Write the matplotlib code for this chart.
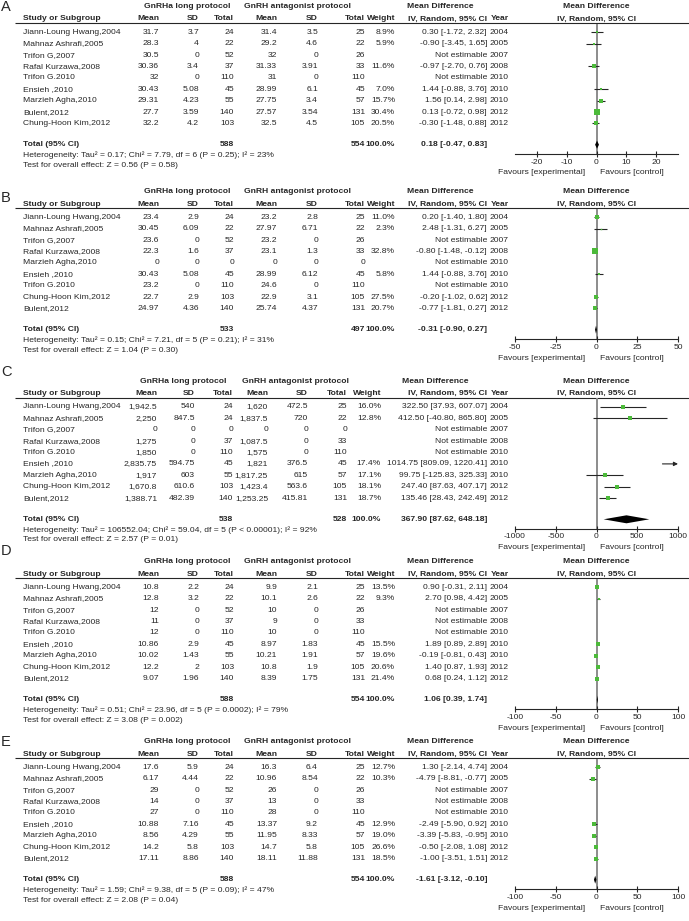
import numpy as np
import matplotlib.pyplot as plt

plt.rcParams['font.family'] = ['Liberation Sans', 'DejaVu Sans']
plt.rcParams['axes.unicode_minus'] = False

# ---- data ----
YEARS = [2004, 2005, 2007, 2008, 2010, 2010, 2010, 2012, 2012]

A_STUDY = ['Jiann-Loung Hwang,2004', 'Mahnaz Ashrafi,2005', 'Trifon G,2007', 'Rafal Kurzawa,2008',
           'Trifon G.2010', 'Ensieh ,2010', 'Marzieh Agha,2010', 'Bulent,2012', 'Chung-Hoon Kim,2012']
A_LONG_MEAN = [31.7, 28.3, 30.5, 30.36, 32, 30.43, 29.31, 27.7, 32.2]
A_LONG_SD = [3.7, 4, 0, 3.4, 0, 5.08, 4.23, 3.59, 4.2]
A_LONG_N = [24, 22, 52, 37, 110, 45, 55, 140, 103]
A_ANT_MEAN = [31.4, 29.2, 32, 31.33, 31, 28.99, 27.75, 27.57, 32.5]
A_ANT_SD = [3.5, 4.6, 0, 3.91, 0, 6.1, 3.4, 3.54, 4.5]
A_ANT_N = [25, 22, 26, 33, 110, 45, 57, 131, 105]
A_WEIGHT = [8.9, 5.9, None, 11.6, None, 7.0, 15.7, 30.4, 20.5]
A_MD = [0.30, -0.90, None, -0.97, None, 1.44, 1.56, 0.13, -0.30]
A_LO = [-1.72, -3.45, None, -2.70, None, -0.88, 0.14, -0.72, -1.48]
A_HI = [2.32, 1.65, None, 0.76, None, 3.76, 2.98, 0.98, 0.88]
A_TOTAL_N = [588, 554]
A_POOLED = [0.18, -0.47, 0.83]
A_HET = 'Heterogeneity: Tau² = 0.17; Chi² = 7.79, df = 6 (P = 0.25); I² = 23%'
A_TEST = 'Test for overall effect: Z = 0.56 (P = 0.58)'
A_TICKS = [-20, -10, 0, 10, 20]
A_XLIM = [-27.5, 27.5]

B_STUDY = ['Jiann-Loung Hwang,2004', 'Mahnaz Ashrafi,2005', 'Trifon G,2007', 'Rafal Kurzawa,2008',
           'Marzieh Agha,2010', 'Ensieh ,2010', 'Trifon G.2010', 'Chung-Hoon Kim,2012', 'Bulent,2012']
B_LONG_MEAN = [23.4, 30.45, 23.6, 22.3, 0, 30.43, 23.2, 22.7, 24.97]
B_LONG_SD = [2.9, 6.09, 0, 1.6, 0, 5.08, 0, 2.9, 4.36]
B_LONG_N = [24, 22, 52, 37, 0, 45, 110, 103, 140]
B_ANT_MEAN = [23.2, 27.97, 23.2, 23.1, 0, 28.99, 24.6, 22.9, 25.74]
B_ANT_SD = [2.8, 6.71, 0, 1.3, 0, 6.12, 0, 3.1, 4.37]
B_ANT_N = [25, 22, 26, 33, 0, 45, 110, 105, 131]
B_WEIGHT = [11.0, 2.3, None, 32.8, None, 5.8, None, 27.5, 20.7]
B_MD = [0.20, 2.48, None, -0.80, None, 1.44, None, -0.20, -0.77]
B_LO = [-1.40, -1.31, None, -1.48, None, -0.88, None, -1.02, -1.81]
B_HI = [1.80, 6.27, None, -0.12, None, 3.76, None, 0.62, 0.27]
B_TOTAL_N = [533, 497]
B_POOLED = [-0.31, -0.90, 0.27]
B_HET = 'Heterogeneity: Tau² = 0.15; Chi² = 7.21, df = 5 (P = 0.21); I² = 31%'
B_TEST = 'Test for overall effect: Z = 1.04 (P = 0.30)'
B_TICKS = [-50, -25, 0, 25, 50]
B_XLIM = [-50, 50]

CDE_STUDY = ['Jiann-Loung Hwang,2004', 'Mahnaz Ashrafi,2005', 'Trifon G,2007', 'Rafal Kurzawa,2008',
             'Trifon G.2010', 'Ensieh ,2010', 'Marzieh Agha,2010', 'Chung-Hoon Kim,2012', 'Bulent,2012']

C_LONG_MEAN = [1942.5, 2250, 0, 1275, 1850, 2835.75, 1917, 1670.8, 1388.71]
C_LONG_SD = [540, 847.5, 0, 0, 0, 594.75, 603, 610.6, 482.39]
C_LONG_N = [24, 24, 0, 37, 110, 45, 55, 103, 140]
C_ANT_MEAN = [1620, 1837.5, 0, 1087.5, 1575, 1821, 1817.25, 1423.4, 1253.25]
C_ANT_SD = [472.5, 720, 0, 0, 0, 376.5, 615, 563.6, 415.81]
C_ANT_N = [25, 22, 0, 33, 110, 45, 57, 105, 131]
C_WEIGHT = [16.0, 12.8, None, None, None, 17.4, 17.1, 18.1, 18.7]
C_MD = [322.50, 412.50, None, None, None, 1014.75, 99.75, 247.40, 135.46]
C_LO = [37.93, -40.80, None, None, None, 809.09, -125.83, 87.63, 28.43]
C_HI = [607.07, 865.80, None, None, None, 1220.41, 325.33, 407.17, 242.49]
C_TOTAL_N = [538, 528]
C_POOLED = [367.90, 87.62, 648.18]
C_HET = 'Heterogeneity: Tau² = 106552.04; Chi² = 59.04, df = 5 (P < 0.00001); I² = 92%'
C_TEST = 'Test for overall effect: Z = 2.57 (P = 0.01)'
C_TICKS = [-1000, -500, 0, 500, 1000]
C_XLIM = [-1000, 1000]

D_LONG_MEAN = [10.8, 12.8, 12, 11, 12, 10.86, 10.02, 12.2, 9.07]
D_LONG_SD = [2.2, 3.2, 0, 0, 0, 2.9, 1.43, 2, 1.96]
D_LONG_N = [24, 22, 52, 37, 110, 45, 55, 103, 140]
D_ANT_MEAN = [9.9, 10.1, 10, 9, 10, 8.97, 10.21, 10.8, 8.39]
D_ANT_SD = [2.1, 2.6, 0, 0, 0, 1.83, 1.91, 1.9, 1.75]
D_ANT_N = [25, 22, 26, 33, 110, 45, 57, 105, 131]
D_WEIGHT = [13.5, 9.3, None, None, None, 15.5, 19.6, 20.6, 21.4]
D_MD = [0.90, 2.70, None, None, None, 1.89, -0.19, 1.40, 0.68]
D_LO = [-0.31, 0.98, None, None, None, 0.89, -0.81, 0.87, 0.24]
D_HI = [2.11, 4.42, None, None, None, 2.89, 0.43, 1.93, 1.12]
D_TOTAL_N = [588, 554]
D_POOLED = [1.06, 0.39, 1.74]
D_HET = 'Heterogeneity: Tau² = 0.51; Chi² = 23.96, df = 5 (P = 0.0002); I² = 79%'
D_TEST = 'Test for overall effect: Z = 3.08 (P = 0.002)'
D_TICKS = [-100, -50, 0, 50, 100]
D_XLIM = [-100, 100]

E_LONG_MEAN = [17.6, 6.17, 29, 14, 27, 10.88, 8.56, 14.2, 17.11]
E_LONG_SD = [5.9, 4.44, 0, 0, 0, 7.16, 4.29, 5.8, 8.86]
E_LONG_N = [24, 22, 52, 37, 110, 45, 55, 103, 140]
E_ANT_MEAN = [16.3, 10.96, 26, 13, 28, 13.37, 11.95, 14.7, 18.11]
E_ANT_SD = [6.4, 8.54, 0, 0, 0, 9.2, 8.33, 5.8, 11.88]
E_ANT_N = [25, 22, 26, 33, 110, 45, 57, 105, 131]
E_WEIGHT = [12.7, 10.3, None, None, None, 12.9, 19.0, 26.6, 18.5]
E_MD = [1.30, -4.79, None, None, None, -2.49, -3.39, -0.50, -1.00]
E_LO = [-2.14, -8.81, None, None, None, -5.90, -5.83, -2.08, -3.51]
E_HI = [4.74, -0.77, None, None, None, 0.92, -0.95, 1.08, 1.51]
E_TOTAL_N = [588, 554]
E_POOLED = [-1.61, -3.12, -0.10]
E_HET = 'Heterogeneity: Tau² = 1.59; Chi² = 9.38, df = 5 (P = 0.09); I² = 47%'
E_TEST = 'Test for overall effect: Z = 2.08 (P = 0.04)'
E_TICKS = [-100, -50, 0, 50, 100]
E_XLIM = [-100, 100]

# ---- layout (pixels) ----
W, H = 689, 921
FS = 6.1
INK = '#262626'
GREEN = '#4cba3a'
FX0, FX1 = 515, 678
FMID = (FX0 + FX1) / 2
ROW0, ROW_STEP, TOTAL_DY = 25.6, 11.4, 138.0

COLS = dict(study=23, lm=159, lsd=199, ln=234, am=277, asd=318, an=365, w=395,
            ci=487, yr=509, g1=187, g2=298, mdh=407)
COLS_C = dict(COLS, lm=157, lsd=195, ln=233, am=268, asd=308, an=347, w=381,
              g1=183, g2=296, mdh=402)


def fmt(v):
    return f'{v:,g}'


def draw_panel(fig, bg, y0, letter, letter_dy, cols, d):
    txt = dict(fontsize=FS, color=INK, va='center')
    bold = dict(txt, fontweight='bold')
    bg.text(1, y0 + letter_dy, letter, fontsize=10.5, color=INK, va='center')

    h1, h2 = y0, y0 + 12.3
    bg.text(cols['g1'], h1, 'GnRHa long protocol', ha='center', **bold)
    bg.text(cols['g2'], h1, 'GnRH antagonist protocol', ha='center', **bold)
    bg.text(cols['mdh'], h1, 'Mean Difference', ha='left', **bold)
    bg.text(FMID, h1, 'Mean Difference', ha='center', **bold)
    bg.text(cols['study'], h2, 'Study or Subgroup', ha='left', **bold)
    heads = [('lm', 'Mean'), ('lsd', 'SD'), ('ln', 'Total'), ('am', 'Mean'), ('asd', 'SD'),
             ('an', 'Total'), ('w', 'Weight'), ('ci', 'IV, Random, 95% CI'), ('yr', 'Year')]
    for key, lab in heads:
        bg.text(cols[key], h2, lab, ha='right', **bold)
    bg.text(FMID, h2, 'IV, Random, 95% CI', ha='center', **bold)
    bg.plot([15, W], [y0 + 16.6] * 2, color=INK, lw=0.8, solid_capstyle='butt')

    for i, name in enumerate(d['study']):
        y = y0 + ROW0 + i * ROW_STEP
        bg.text(cols['study'], y, name, ha='left', **txt)
        for key in ('lm', 'lsd', 'am', 'asd'):
            bg.text(cols[key], y, fmt(d[key][i]), ha='right', **txt)
        bg.text(cols['ln'], y, str(d['ln'][i]), ha='right', **txt)
        bg.text(cols['an'], y, str(d['an'][i]), ha='right', **txt)
        if d['md'][i] is None:
            bg.text(cols['ci'], y, 'Not estimable', ha='right', **txt)
        else:
            bg.text(cols['w'], y, f"{d['w'][i]:.1f}%", ha='right', **txt)
            bg.text(cols['ci'], y, f"{d['md'][i]:.2f} [{d['lo'][i]:.2f}, {d['hi'][i]:.2f}]",
                    ha='right', **txt)
        bg.text(cols['yr'], y, str(YEARS[i]), ha='right', **txt)

    yt = y0 + TOTAL_DY
    m, lo, hi = d['pooled']
    bg.text(cols['study'], yt, 'Total (95% CI)', ha='left', **bold)
    bg.text(cols['ln'], yt, str(d['total_n'][0]), ha='right', **bold)
    bg.text(cols['an'], yt, str(d['total_n'][1]), ha='right', **bold)
    bg.text(cols['w'], yt, '100.0%', ha='right', **bold)
    bg.text(cols['ci'], yt, f'{m:.2f} [{lo:.2f}, {hi:.2f}]', ha='right', **bold)
    bg.text(cols['study'], y0 + 148.6, d['het'], ha='left', **txt)
    bg.text(cols['study'], y0 + 158.6, d['test'], ha='left', **txt)
    bg.text(FMID - 11, y0 + 166.3, 'Favours [experimental]', ha='right', **txt)
    bg.text(FMID + 3.5, y0 + 166.3, 'Favours [control]', ha='left', **txt)

    # forest plot
    top, bot = 17.0, 147.3
    ax = fig.add_axes([FX0 / W, 1 - (y0 + bot) / H, (FX1 - FX0) / W, (bot - top) / H])
    ax.patch.set_alpha(0)
    ax.set_xlim(d['xlim'])
    ax.set_ylim(bot, top)
    for s in ('left', 'right', 'top'):
        ax.spines[s].set_visible(False)
    ax.spines['bottom'].set_color(INK)
    ax.spines['bottom'].set_linewidth(0.8)
    ax.set_yticks([])
    ax.set_xticks(d['ticks'])
    ax.set_xticklabels([str(t) for t in d['ticks']])
    ax.tick_params(axis='x', direction='inout', length=5, width=0.8, colors=INK,
                   labelsize=FS, pad=1)
    ax.axvline(0, color='#8c8c8c', lw=1.4, zorder=1)

    xmin, xmax = d['xlim']
    for i in range(len(d['study'])):
        if d['md'][i] is None:
            continue
        y = ROW0 + i * ROW_STEP
        l, h, e = d['lo'][i], d['hi'][i], d['md'][i]
        if h > xmax:
            ax.annotate('', xy=(xmax, y), xytext=(max(l, xmin), y), annotation_clip=False,
                        arrowprops=dict(arrowstyle='-|>', color=INK, lw=0.8,
                                        mutation_scale=6, shrinkA=0, shrinkB=0))
        else:
            ax.hlines(y, max(l, xmin), h, color=INK, lw=0.8, zorder=2)
        if xmin <= e <= xmax:
            ax.plot(e, y, marker='s', ms=0.68 * np.sqrt(d['w'][i]), color=GREEN,
                    mec=GREEN, mew=0, zorder=3)
    ax.fill([lo, m, hi, m], [TOTAL_DY, TOTAL_DY - 4, TOTAL_DY, TOTAL_DY + 4],
            color='black', lw=0, zorder=3)


fig = plt.figure(figsize=(W / 100, H / 100), dpi=100)
bg = fig.add_axes([0, 0, 1, 1])
bg.set_xlim(0, W)
bg.set_ylim(H, 0)
bg.axis('off')

panels = [
    ('A', 6.7, 0.0, COLS, dict(study=A_STUDY, lm=A_LONG_MEAN, lsd=A_LONG_SD, ln=A_LONG_N,
                               am=A_ANT_MEAN, asd=A_ANT_SD, an=A_ANT_N, w=A_WEIGHT, md=A_MD,
                               lo=A_LO, hi=A_HI, total_n=A_TOTAL_N, pooled=A_POOLED,
                               het=A_HET, test=A_TEST, ticks=A_TICKS, xlim=A_XLIM)),
    ('B', 191.7, 6.3, COLS, dict(study=B_STUDY, lm=B_LONG_MEAN, lsd=B_LONG_SD, ln=B_LONG_N,
                                 am=B_ANT_MEAN, asd=B_ANT_SD, an=B_ANT_N, w=B_WEIGHT, md=B_MD,
                                 lo=B_LO, hi=B_HI, total_n=B_TOTAL_N, pooled=B_POOLED,
                                 het=B_HET, test=B_TEST, ticks=B_TICKS, xlim=B_XLIM)),
    ('C', 381.3, -9.0, COLS_C, dict(study=CDE_STUDY, lm=C_LONG_MEAN, lsd=C_LONG_SD, ln=C_LONG_N,
                                    am=C_ANT_MEAN, asd=C_ANT_SD, an=C_ANT_N, w=C_WEIGHT, md=C_MD,
                                    lo=C_LO, hi=C_HI, total_n=C_TOTAL_N, pooled=C_POOLED,
                                    het=C_HET, test=C_TEST, ticks=C_TICKS, xlim=C_XLIM)),
    ('D', 561.7, -11.0, COLS, dict(study=CDE_STUDY, lm=D_LONG_MEAN, lsd=D_LONG_SD, ln=D_LONG_N,
                                   am=D_ANT_MEAN, asd=D_ANT_SD, an=D_ANT_N, w=D_WEIGHT, md=D_MD,
                                   lo=D_LO, hi=D_HI, total_n=D_TOTAL_N, pooled=D_POOLED,
                                   het=D_HET, test=D_TEST, ticks=D_TICKS, xlim=D_XLIM)),
    ('E', 741.7, 0.0, COLS, dict(study=CDE_STUDY, lm=E_LONG_MEAN, lsd=E_LONG_SD, ln=E_LONG_N,
                                 am=E_ANT_MEAN, asd=E_ANT_SD, an=E_ANT_N, w=E_WEIGHT, md=E_MD,
                                 lo=E_LO, hi=E_HI, total_n=E_TOTAL_N, pooled=E_POOLED,
                                 het=E_HET, test=E_TEST, ticks=E_TICKS, xlim=E_XLIM)),
]
for letter, y0, ldy, cols, d in panels:
    draw_panel(fig, bg, y0, letter, ldy, cols, d)

fig.savefig('out.png', dpi=100)
